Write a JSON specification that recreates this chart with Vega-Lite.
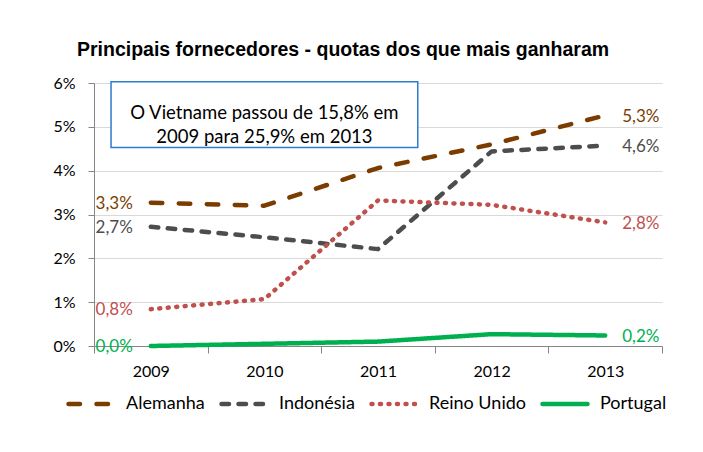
{
  "$schema": "https://vega.github.io/schema/vega-lite/v6.json",
  "autosize": {"type": "none"},
  "width": 568,
  "height": 263,
  "padding": {"left": 94, "top": 83, "right": 41, "bottom": 106},
  "background": "white",
  "title": {
    "text": "Principais fornecedores - quotas dos que mais ganharam",
    "font": "Liberation Sans",
    "fontSize": 19.5,
    "fontWeight": "bold",
    "color": "#000000",
    "anchor": "start",
    "frame": "group",
    "dx": -17,
    "dy": 28,
    "baseline": "alphabetic",
    "offset": 28
  },
  "datasets": {
    "quotas": [
      {"pais": "Alemanha", "ano": 2009, "quota": 0.0327},
      {"pais": "Alemanha", "ano": 2010, "quota": 0.0320},
      {"pais": "Alemanha", "ano": 2011, "quota": 0.0406},
      {"pais": "Alemanha", "ano": 2012, "quota": 0.0460},
      {"pais": "Alemanha", "ano": 2013, "quota": 0.0526},
      {"pais": "Indonésia", "ano": 2009, "quota": 0.0272},
      {"pais": "Indonésia", "ano": 2010, "quota": 0.0248},
      {"pais": "Indonésia", "ano": 2011, "quota": 0.0221},
      {"pais": "Indonésia", "ano": 2012, "quota": 0.0444},
      {"pais": "Indonésia", "ano": 2013, "quota": 0.0457},
      {"pais": "Reino Unido", "ano": 2009, "quota": 0.0084},
      {"pais": "Reino Unido", "ano": 2010, "quota": 0.0107},
      {"pais": "Reino Unido", "ano": 2011, "quota": 0.0332},
      {"pais": "Reino Unido", "ano": 2012, "quota": 0.0322},
      {"pais": "Reino Unido", "ano": 2013, "quota": 0.0282},
      {"pais": "Portugal", "ano": 2009, "quota": 0.0},
      {"pais": "Portugal", "ano": 2010, "quota": 0.0005},
      {"pais": "Portugal", "ano": 2011, "quota": 0.0010},
      {"pais": "Portugal", "ano": 2012, "quota": 0.0027},
      {"pais": "Portugal", "ano": 2013, "quota": 0.0024}
    ],
    "nota": [
      {"linha1": "O Vietname passou de 15,8% em", "linha2": "2009 para 25,9% em 2013"}
    ]
  },
  "data": {"name": "quotas"},
  "layer": [
    {
      "data": {"name": "nota"},
      "mark": {"type": "rect", "fill": "white", "stroke": "#2E7BCF", "strokeWidth": 1.5},
      "encoding": {
        "x": {"datum": 2008.65, "type": "quantitative"},
        "x2": {"datum": 2011.35},
        "y": {"datum": 0.0603, "type": "quantitative"},
        "y2": {"datum": 0.0453}
      }
    },
    {
      "data": {"name": "nota"},
      "mark": {"type": "text", "font": "Lato", "fontSize": 18.5, "fill": "#000000", "align": "center", "baseline": "middle", "lineHeight": 23.5},
      "encoding": {
        "x": {"datum": 2010.0, "type": "quantitative"},
        "y": {"datum": 0.0531, "type": "quantitative"},
        "text": {"value": ["O Vietname passou de 15,8% em", "2009 para 25,9% em 2013"]}
      }
    },
    {
      "mark": {"type": "line", "interpolate": "linear", "strokeCap": "round", "strokeJoin": "round"},
      "encoding": {
        "x": {
          "field": "ano", "type": "quantitative",
          "scale": {"domain": [2008.5, 2013.5], "nice": false, "zero": false},
          "axis": {
            "title": null,
            "values": [2008.5, 2009, 2009.5, 2010, 2010.5, 2011, 2011.5, 2012, 2012.5, 2013, 2013.5],
            "labelExpr": "datum.value % 1 === 0 ? format(datum.value, 'd') : ''",
            "tickOpacity": {"condition": {"test": "datum.value % 1 === 0", "value": 0}, "value": 1},
            "grid": false,
            "domainColor": "#868686",
            "tickColor": "#868686",
            "tickSize": 7,
            "labelFont": "Lato",
            "labelFontSize": 16,
            "labelColor": "#000000",
            "labelPadding": 10,
            "labelFlush": false,
            "labelOverlap": false
          }
        },
        "y": {
          "field": "quota", "type": "quantitative",
          "scale": {"domain": [0, 0.06], "nice": false},
          "axis": {
            "title": null,
            "values": [0, 0.01, 0.02, 0.03, 0.04, 0.05, 0.06],
            "format": ".0%",
            "grid": true,
            "gridColor": "#D9D9D9",
            "gridWidth": 1.2,
            "domainColor": "#868686",
            "tickColor": "#868686",
            "tickSize": 6,
            "labelFont": "Lato",
            "labelFontSize": 16,
            "labelColor": "#000000",
            "labelPadding": 13
          }
        },
        "color": {
          "field": "pais", "type": "nominal",
          "scale": {
            "domain": ["Alemanha", "Indonésia", "Reino Unido", "Portugal"],
            "range": ["#7B3C00", "#4D4D4D", "#C0504D", "#00B050"]
          },
          "legend": {
            "title": null,
            "orient": "none",
            "legendX": -28,
            "legendY": 296,
            "direction": "horizontal",
            "gridAlign": "none",
            "symbolType": "stroke",
            "symbolSize": 2025,
            "symbolStrokeWidth": 4.5,
            "labelFont": "Lato",
            "labelFontSize": 18,
            "labelColor": "#000000",
            "labelOffset": 10,
            "columnPadding": 7,
            "encode": {"symbols": {"update": {"strokeCap": {"value": "round"}}}}
          }
        },
        "strokeDash": {
          "field": "pais", "type": "nominal",
          "scale": {
            "domain": ["Alemanha", "Indonésia", "Reino Unido", "Portugal"],
            "range": [[11.5, 16.5], [7.5, 9.5], [1, 7.5], [1, 0]]
          },
          "legend": null
        },
        "strokeWidth": {
          "field": "pais", "type": "nominal",
          "scale": {
            "domain": ["Alemanha", "Indonésia", "Reino Unido", "Portugal"],
            "range": [4.5, 4.5, 3.5, 4.5]
          },
          "legend": null
        }
      }
    },
    {
      "transform": [{"filter": "datum.ano === 2009"}],
      "mark": {"type": "text", "font": "Lato", "fontSize": 17, "align": "right", "baseline": "middle", "dx": -18, "dy": 1},
      "encoding": {
        "x": {"field": "ano", "type": "quantitative"},
        "y": {"field": "quota", "type": "quantitative"},
        "text": {"field": "quota", "type": "quantitative", "format": ".1%"},
        "color": {"field": "pais", "type": "nominal", "legend": null}
      }
    },
    {
      "transform": [{"filter": "datum.ano === 2013"}],
      "mark": {"type": "text", "font": "Lato", "fontSize": 17, "align": "left", "baseline": "middle", "dx": 17, "dy": 1.5},
      "encoding": {
        "x": {"field": "ano", "type": "quantitative"},
        "y": {"field": "quota", "type": "quantitative"},
        "text": {"field": "quota", "type": "quantitative", "format": ".1%"},
        "color": {"field": "pais", "type": "nominal", "legend": null}
      }
    }
  ],
  "config": {
    "locale": {"number": {"decimal": ",", "thousands": ".", "grouping": [3], "currency": ["", " €"]}},
    "view": {"stroke": null}
  }
}
